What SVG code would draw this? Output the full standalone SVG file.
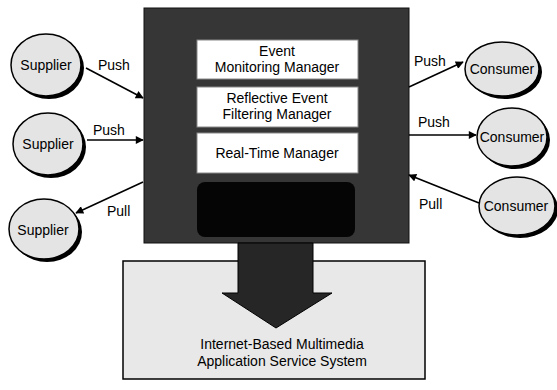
<svg xmlns="http://www.w3.org/2000/svg" width="557" height="390" viewBox="0 0 557 390">
<defs>
<style>
text{font-family:"Liberation Sans",Arial,sans-serif;fill:#000}
.lbl{font-size:14px}
.node{font-size:14px;text-anchor:middle}
.ell{fill:#e4e4e4;stroke:#000;stroke-width:1.5}
.shadow{fill:#000}
.mgr{fill:#fff;stroke:#888;stroke-width:1}
.conn{stroke:#000;stroke-width:1.6;fill:none;marker-end:url(#ah)}
</style>
<marker id="ah" viewBox="0 0 10 10" refX="9" refY="5" markerWidth="10" markerHeight="8" markerUnits="userSpaceOnUse" orient="auto">
<path d="M0,0 L10,5 L0,10 z" fill="#000"/>
</marker>
</defs>
<rect width="557" height="390" fill="#fff"/>

<g id="app-system">
<rect x="123" y="261" width="302" height="118" fill="#e8e8e8" stroke="#000" stroke-width="1.5"/>
<text class="node" x="282" y="349">Internet-Based Multimedia</text>
<text class="node" x="282" y="366">Application Service System</text>
</g>

<g id="event-service">
<rect x="144" y="8" width="265" height="235" fill="#363636" stroke="#111" stroke-width="1"/>
<rect x="197" y="182" width="158" height="55" rx="8" fill="#050505"/>
</g>

<g id="big-arrow">
<path d="M238,243 L313,243 L313,293 L332,293 L276,328 L222,293 L238,293 Z" fill="#262626" stroke="#000" stroke-width="1"/>
</g>

<g id="event-monitoring-manager">
<rect class="mgr" x="197" y="40" width="161" height="39"/>
<text class="node" x="277" y="56">Event</text>
<text class="node" x="277" y="72">Monitoring Manager</text>
</g>
<g id="reflective-event-filtering-manager">
<rect class="mgr" x="197" y="87" width="161" height="40"/>
<text class="node" x="277" y="103">Reflective Event</text>
<text class="node" x="277" y="119">Filtering Manager</text>
</g>
<g id="real-time-manager">
<rect class="mgr" x="197" y="133" width="161" height="40"/>
<text class="node" x="277" y="158">Real-Time Manager</text>
</g>

<g id="supplier-1">
<ellipse class="shadow" cx="49" cy="68" rx="35" ry="31"/>
<ellipse class="ell" cx="46" cy="65" rx="35" ry="31"/>
<text class="node" x="46" y="70">Supplier</text>
</g>
<g id="supplier-2">
<ellipse class="shadow" cx="51" cy="147" rx="35" ry="31"/>
<ellipse class="ell" cx="48" cy="144" rx="35" ry="31"/>
<text class="node" x="48" y="149">Supplier</text>
</g>
<g id="supplier-3">
<ellipse class="shadow" cx="47" cy="232" rx="35" ry="30"/>
<ellipse class="ell" cx="44" cy="229" rx="35" ry="30"/>
<text class="node" x="43" y="235">Supplier</text>
</g>

<g id="consumer-1">
<ellipse class="shadow" cx="505" cy="72" rx="37" ry="27"/>
<ellipse class="ell" cx="502" cy="69" rx="37" ry="27"/>
<text class="node" x="502" y="74">Consumer</text>
</g>
<g id="consumer-2">
<ellipse class="shadow" cx="515" cy="140" rx="35" ry="29"/>
<ellipse class="ell" cx="512" cy="137" rx="35" ry="29"/>
<text class="node" x="512" y="142">Consumer</text>
</g>
<g id="consumer-3">
<ellipse class="shadow" cx="520" cy="209" rx="38" ry="29"/>
<ellipse class="ell" cx="517" cy="206" rx="38" ry="29"/>
<text class="node" x="516" y="211">Consumer</text>
</g>

<g id="connectors">
<line class="conn" x1="86" y1="68" x2="143" y2="98"/>
<line class="conn" x1="87" y1="140" x2="143" y2="140"/>
<line class="conn" x1="143" y1="182" x2="76" y2="213"/>
<line class="conn" x1="409" y1="87" x2="463" y2="62"/>
<line class="conn" x1="409" y1="135" x2="476" y2="135"/>
<line class="conn" x1="479" y1="203" x2="409" y2="175"/>
<text class="lbl" x="98" y="70">Push</text>
<text class="lbl" x="93" y="135">Push</text>
<text class="lbl" x="107" y="216">Pull</text>
<text class="lbl" x="414" y="66">Push</text>
<text class="lbl" x="418" y="127">Push</text>
<text class="lbl" x="419" y="209">Pull</text>
</g>
</svg>
